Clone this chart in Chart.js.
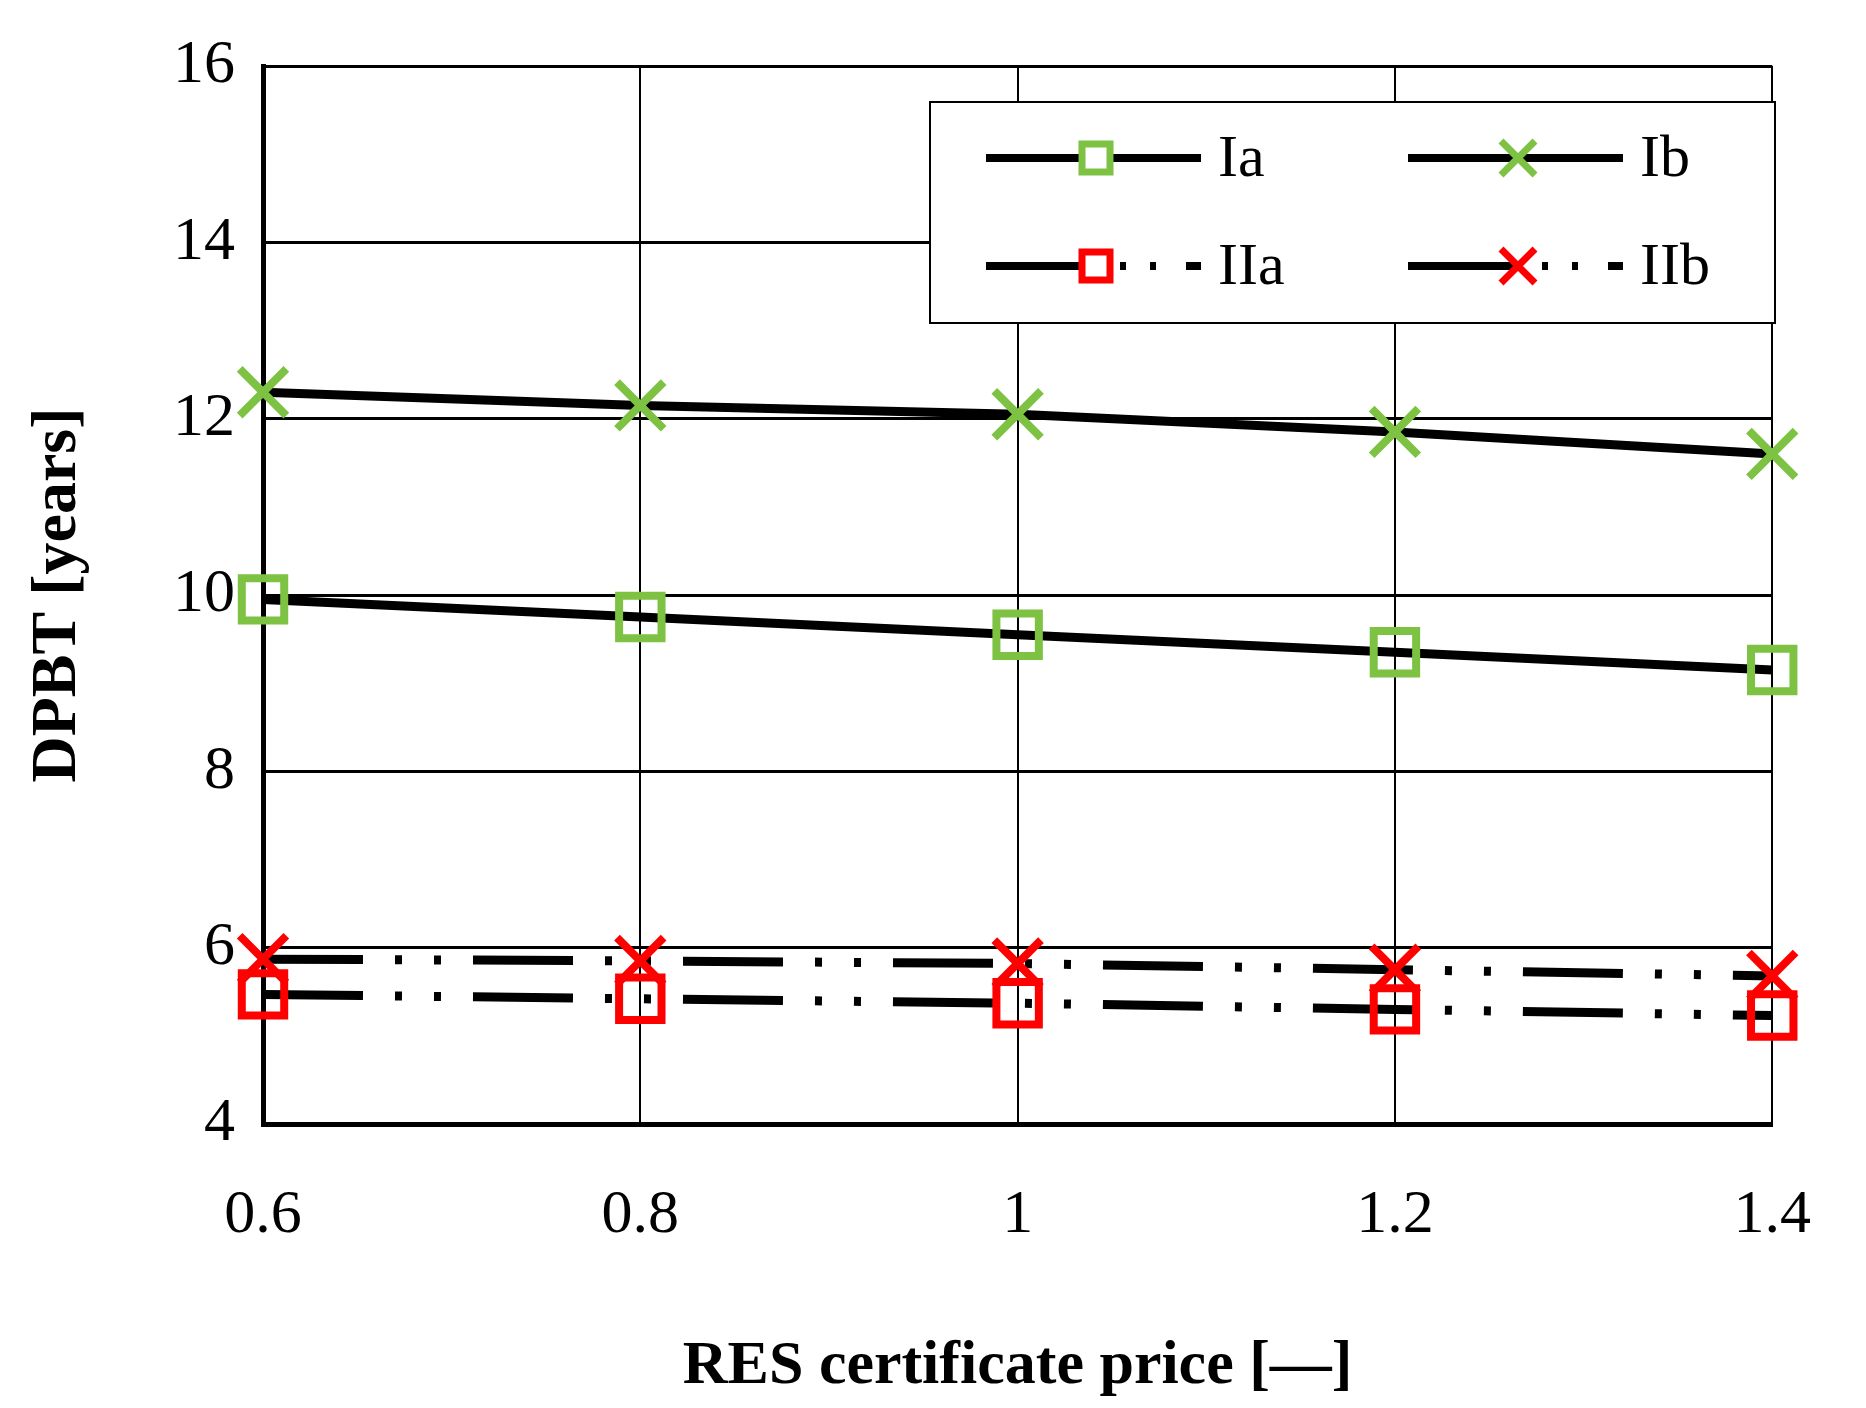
<!DOCTYPE html>
<html lang="en">
<head>
<meta charset="UTF-8" />
<title>DPBT vs RES certificate price</title>
<script src="https://cdn.jsdelivr.net/npm/chart.js"></script>
<style>
  html, body { margin: 0; padding: 0; background: #fff; }
  canvas { display: block; }
</style>
</head>
<body>
<canvas id="c" width="1866" height="1408"></canvas>
<script>
  const prices = [0.6, 0.8, 1.0, 1.2, 1.4];
  const Ia = [9.95, 9.75, 9.55, 9.35, 9.15];
  const Ib = [12.3, 12.15, 12.05, 11.85, 11.6];
  const IIa = [5.47, 5.42, 5.37, 5.3, 5.23];
  const IIb = [5.87, 5.85, 5.82, 5.75, 5.68];
  const yTicks = [4, 6, 8, 10, 12, 14, 16];

  const GREEN = '#7dc242', RED = '#ff0000';
  const DASHDOT = [100, 32, 7, 32, 7, 32];
  const pts = arr => arr.map((v, i) => ({ x: prices[i], y: v }));

  function series(label, data, color, style, dash) {
    return {
      label, data: pts(data), borderColor: '#000', borderWidth: 9,
      borderDash: dash, pointStyle: style,
      pointRadius: style === 'rect' ? 30 : 33,
      pointBorderColor: color, pointBackgroundColor: 'rgba(0,0,0,0)',
      pointBorderWidth: 8, tension: 0, clip: false
    };
  }

  const legendPlugin = {
    id: 'boxLegend',
    afterDraw(chart) {
      const ctx = chart.ctx;
      const x0 = 930, y0 = 102, w = 845, h = 221;
      ctx.save();
      ctx.fillStyle = '#fff';
      ctx.fillRect(x0, y0, w, h);
      ctx.strokeStyle = '#000'; ctx.lineWidth = 2;
      ctx.strokeRect(x0, y0, w, h);
      const items = [
        { label: 'Ia', color: GREEN, style: 'rect', dash: [], col: 0, row: 0 },
        { label: 'Ib', color: GREEN, style: 'x', dash: [], col: 1, row: 0 },
        { label: 'IIa', color: RED, style: 'rect', dash: [110, 24, 6, 24, 6, 30], col: 0, row: 1 },
        { label: 'IIb', color: RED, style: 'x', dash: [110, 24, 6, 24, 6, 30], col: 1, row: 1 }
      ];
      ctx.font = '60px "Liberation Serif"';
      ctx.textBaseline = 'middle';
      items.forEach(it => {
        const lx = x0 + 56 + it.col * 422, ly = y0 + 56 + it.row * 108;
        ctx.strokeStyle = '#000'; ctx.lineWidth = 8;
        ctx.setLineDash(it.dash);
        ctx.beginPath(); ctx.moveTo(lx, ly); ctx.lineTo(lx + 215, ly); ctx.stroke();
        ctx.setLineDash([]);
        const mx = lx + 110;
        ctx.strokeStyle = it.color; ctx.lineWidth = 7;
        if (it.style === 'rect') {
          ctx.fillStyle = '#fff';
          ctx.fillRect(mx - 14, ly - 14, 28, 28);
          ctx.strokeRect(mx - 14, ly - 14, 28, 28);
        } else {
          ctx.beginPath();
          ctx.moveTo(mx - 17, ly - 17); ctx.lineTo(mx + 17, ly + 17);
          ctx.moveTo(mx + 17, ly - 17); ctx.lineTo(mx - 17, ly + 17);
          ctx.stroke();
        }
        ctx.fillStyle = '#000';
        ctx.fillText(it.label, lx + 232, ly + 2);
      });
      ctx.restore();
    }
  };

  new Chart(document.getElementById('c'), {
    type: 'line',
    data: {
      datasets: [
        series('IIa', IIa, RED, 'rect', DASHDOT),
        series('IIb', IIb, RED, 'crossRot', DASHDOT),
        series('Ia', Ia, GREEN, 'rect', []),
        series('Ib', Ib, GREEN, 'crossRot', [])
      ]
    },
    options: {
      responsive: false, animation: false, devicePixelRatio: 1,
      layout: { padding: { top: 66, right: 40, left: 0, bottom: 0 } },
      plugins: { legend: { display: false }, tooltip: { enabled: false } },
      scales: {
        x: {
          type: 'linear', min: 0.6, max: 1.4,
          afterBuildTicks: s => { s.ticks = prices.map(v => ({ value: v })); },
          afterFit: s => { s.height = 284; },
          grid: { color: '#000', lineWidth: 2, drawTicks: false },
          border: { color: '#000', width: 5 },
          ticks: { color: '#000', padding: 55, font: { family: 'Liberation Serif', size: 62 },
                   callback: v => String(Math.round(v * 10) / 10) },
          title: { display: true, text: 'RES certificate price [\u2014]', color: '#000',
                   padding: { top: 50 }, font: { family: 'Liberation Serif', size: 62, weight: 'bold' } }
        },
        y: {
          min: 4, max: 16,
          afterBuildTicks: s => { s.ticks = yTicks.map(v => ({ value: v })); },
          afterFit: s => { s.width = 263; },
          grid: { color: '#000', lineWidth: 3, drawTicks: false },
          border: { color: '#000', width: 5 },
          ticks: { color: '#000', padding: 28, font: { family: 'Liberation Serif', size: 62 } },
          title: { display: true, text: 'DPBT [years]', color: '#000',
                   padding: { top: 20, bottom: 20 }, font: { family: 'Liberation Serif', size: 64, weight: 'bold' } }
        }
      }
    },
    plugins: [legendPlugin]
  });
</script>
</body>
</html>
